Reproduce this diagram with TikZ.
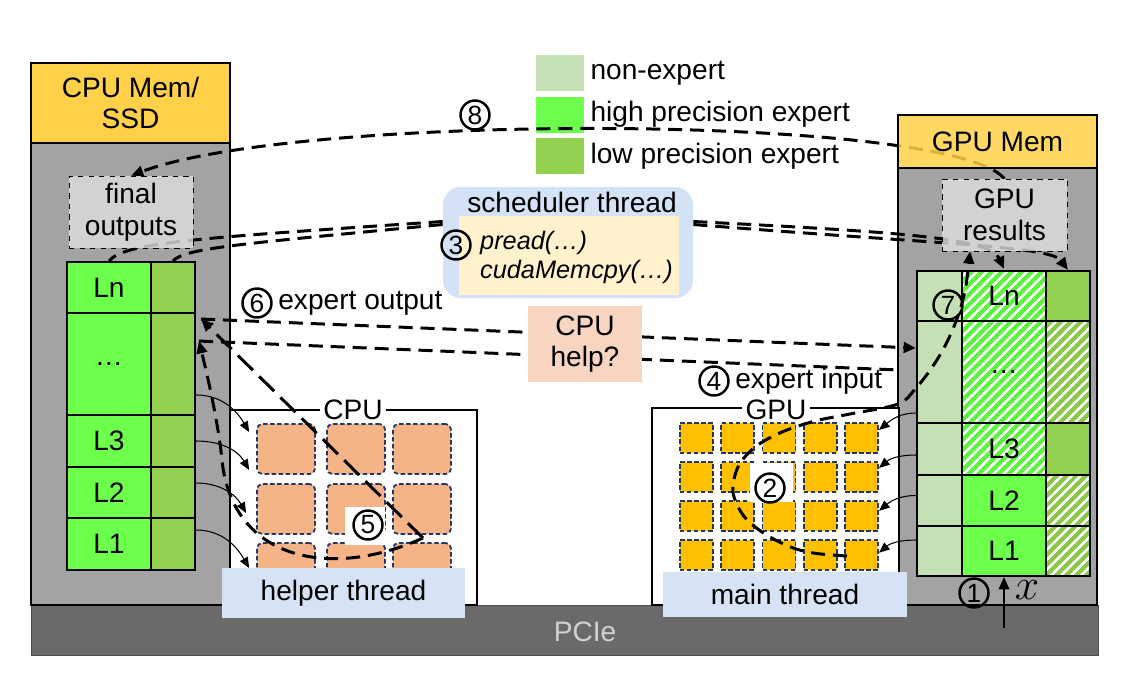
\documentclass[tikz,border=0pt]{standalone}
\usepackage{fontspec}
\setmainfont{Liberation Sans}
\usetikzlibrary{positioning, fit, arrows.meta, patterns.meta}

\definecolor{memyellow}{RGB}{255,209,72}
\definecolor{membody}{RGB}{163,163,163}
\definecolor{pciegray}{RGB}{106,106,106}
\definecolor{nonexp}{RGB}{197,224,180}
\definecolor{hiexp}{RGB}{108,255,76}
\definecolor{histripe}{RGB}{90,245,60}
\definecolor{loexp}{RGB}{146,208,80}
\definecolor{lostripe}{RGB}{140,200,72}
\definecolor{cpuorange}{RGB}{244,180,136}
\definecolor{gpuyellow}{RGB}{255,192,0}
\definecolor{coreline}{RGB}{31,56,100}
\definecolor{threadblue}{RGB}{214,227,244}
\definecolor{schedblue}{RGB}{212,226,245}
\definecolor{schedin}{RGB}{255,242,204}
\definecolor{helpbox}{RGB}{248,213,192}
\definecolor{resgray}{RGB}{222,222,222}

\pgfdeclarelayer{front}
\pgfsetlayers{main,front}

\begin{document}
\begin{tikzpicture}[x=0.02cm, y=-0.02cm, font=\fontsize{16}{18}\selectfont]
		\tikzstyle{box}=[inner sep=0pt]
		\tikzstyle{memframe}=[box, draw=black, line width=1.2pt]
		\tikzstyle{cell}=[box, draw=black, line width=1.2pt]
		\tikzstyle{hicell}=[cell, fill=hiexp]
		\tikzstyle{locell}=[cell, fill=loexp]
		\tikzstyle{necell}=[cell, fill=nonexp]
		\tikzstyle{hihatch}=[cell, preaction={fill=white},
		pattern={Lines[angle=45,distance=4pt,line width=2.4pt]}, pattern color=histripe]
		\tikzstyle{lohatch}=[cell, preaction={fill=white},
		pattern={Lines[angle=45,distance=4pt,line width=2.4pt]}, pattern color=lostripe]
		\tikzstyle{resbox}=[box, draw=black, dashed, fill=resgray, fill opacity=0.8, text opacity=1]
		\tikzstyle{core}=[draw=coreline, line width=1pt, dash pattern=on 2.5pt off 1.5pt]
		\tikzstyle{cpuunit}=[core, fill=cpuorange, rounded corners=3pt, minimum width=1.16cm, minimum height=1cm]
		\tikzstyle{gpuunit}=[core, fill=gpuyellow, minimum width=0.66cm, minimum height=0.6cm]
		\tikzstyle{threadbox}=[box, fill=threadblue]
		\tikzstyle{legbox}=[minimum width=0.96cm, minimum height=0.72cm, inner sep=0pt]
		\tikzstyle{num}=[circle, draw, line width=1.4pt, minimum size=0.58cm, inner sep=0pt,
		font=\fontsize{15}{15}\selectfont]
		\tikzstyle{flow}=[line width=1.7pt, dash pattern=on 8pt off 4.5pt]
		\tikzstyle{feed}=[line width=0.6pt, -{Triangle[length=6pt,width=5pt]}]
		\tikzstyle{tip}=[-{Triangle[length=7pt,width=6pt]}]
		\tikzset{every label/.style={align=center}}
		
		\useasboundingbox (0,0) rectangle (1123,697);
		
		%% PCIe
		\node[box, fill=pciegray, draw=black!70, fit={(31,605) (1098,655)}] (pcie) {};
		\node[text=black!18] (pcielab) at (585,632) {PCIe};
		
		%% Memorias
		\node[memframe, fill=membody, fit={(31,143) (230,605)}] (cpumem) {};
		\node[memframe, fill=memyellow, fit={(31,63) (230,143)}, label=center:{CPU Mem/\\SSD}] (cpuhead) {};
		\node[memframe, fill=membody, fit={(898,168) (1097,605)}] (gpumem) {};
		
		%% CPU e GPU
		\node[box, draw, line width=1pt, fill=white, fit={(230,410) (477,605)}] (cpu) {};
		\node[fill=white, inner sep=2pt] (cpulab) at (353,410) {CPU};
		\node[box, draw, line width=1pt, fill=white, fit={(652,408) (899,605)}] (gpu) {};
		\node[fill=white, inner sep=2pt] (gpulab) at (776,410) {GPU};
		
		%% Legenda
		\node[legbox, fill=nonexp] (leg1) at (560,73) {};
		\node[right=0pt of leg1] (legt1) {non-expert};
		\node[legbox, fill=hiexp, below=0.1cm of leg1] (leg2) {};
		\node[right=0pt of leg2] (legt2) {high precision expert};
		\node[legbox, fill=loexp, below=0.1cm of leg2] (leg3) {};
		\node[right=0pt of leg3] (legt3) {low precision expert};
		
		%% Camadas na CPU Mem
		\foreach \n/\ya/\yb/\t in {ln/262/313/Ln, dots/313/415/\ldots, l3/415/467/L3, l2/467/518/L2, l1/518/570/L1}
		{
			\node[hicell, fit={(67,\ya) (151,\yb)}, label=center:\t] (cl-\n) {};
			\node[locell, fit={(151,\ya) (195,\yb)}] (cr-\n) {};
		}
		
		%% Camadas na GPU Mem
		\foreach \n/\ya/\yb/\t/\ms/\ls in {ln/271/321/Ln/hihatch/locell, dots/321/423/\ldots/hihatch/lohatch,
			l3/423/475/L3/hihatch/locell, l2/475/526/L2/hicell/lohatch, l1/526/576/L1/hicell/lohatch}
		{
			\node[necell, fit={(917,\ya) (962,\yb)}] (nl-\n) {};
			\node[\ms, fit={(962,\ya) (1046,\yb)}, label=center:\t] (nm-\n) {};
			\node[\ls, fit={(1046,\ya) (1090,\yb)}] (nr-\n) {};
		}
		
		%% Nucleos
		\foreach \i/\x in {1/286,2/356,3/422}
		\foreach \j/\y in {1/449,2/509,3/568}
		\node[cpuunit] (cpu-\i-\j) at (\x,\y) {};
		
		\foreach \i in {0,...,4}
		\foreach \j in {0,...,3}
		\node[gpuunit] (gpu-\i-\j) at (696.5+41.3*\i, 438+38.9*\j) {};
		
		%% Resultados (na frente das setas)
		\begin{pgfonlayer}{front}
			\node[resbox, fit={(69,176) (193,248)}, label=center:{final\\outputs}] (finalout) {};
			\node[resbox, fit={(942,179) (1067,251)}, label=center:{GPU\\results}] (gpures) {};
			\node[memframe, fill=memyellow, fill opacity=0.85, text opacity=1,
			fit={(898,115) (1097,168)}, label=center:{GPU Mem}] (gpuhead) {};
		\end{pgfonlayer}
		
		%% Scheduler
		\node[box, fill=schedblue, rounded corners=10pt, fit={(443,187) (693,298)}] (sched) {};
		\node[box, fill=schedin, fit={(459,216) (679,295)}] (schedcode) {};
		\node (schedlab) at (572,202) {scheduler thread};
		\node[anchor=west, align=left, font=\itshape\fontsize{14.4}{16.5}\selectfont] (calls) at (474,257)
		{pread(…)\\cudaMemcpy(…)};
		\node[num] (n3) at (456,245) {3};
		
		%% Setas tracejadas
		\coordinate (p5) at (423,538);
		\coordinate (p2) at (847,556);
		\coordinate (p7) at ([xshift=-0.69cm]gpures.south);
		\coordinate (xin) at (1004,628);
		
		\draw[flow, tip] (gpures.north) .. controls (950,114) and (300,112) .. (finalout.north);
		\draw[flow] ([yshift=0.42cm]sched.west) .. controls (200,238) and (125,242) .. (cl-ln.north);
		\draw[flow] ([yshift=0.36cm]sched.west) .. controls (240,244) and (185,248) .. (cr-ln.north);
		\draw[flow, tip] ([yshift=0.42cm]sched.east) .. controls (900,232) and (990,238) .. (nm-ln.north);
		\draw[flow, tip] ([yshift=0.36cm]sched.east) .. controls (950,245) and (1050,246) .. (nr-ln.north);
		\draw[flow, tip] ([xshift=0.1cm,yshift=-0.1cm]cr-ln.south east) -- ([yshift=0.48cm]nl-dots.west);
		\draw[flow] ([xshift=0.06cm,yshift=-0.54cm]cr-ln.south east) -- ([xshift=-0.34cm,yshift=0.04cm]nl-dots.west);
		\draw[flow, tip, dash pattern=on 12pt off 5pt] (p5) -- ([xshift=0.1cm,yshift=-0.1cm]cr-ln.south east);
		\draw[flow, tip] (p5) .. controls (330,580) and (232,560) .. (222,460)
		.. controls (218,420) and (206,370) .. ([xshift=0.06cm,yshift=-0.54cm]cr-ln.south east);
		\draw[flow, tip] plot[smooth, tension=0.55] coordinates {(p2) (813,553) (788,546) (762,532) (743,515)
			(733,492) (738,467) (755,447) (782,432) (815,421) (850,414) (898,404) (916,388) (933,366)
			(947,342) (959,313) (966,285) (p7)};
		
		%% Setas finas
		\draw[feed] ([yshift=-0.62cm]cr-dots.east) to[out=0, in=120] ([xshift=-0.14cm,yshift=0.34cm]cpu-1-1.west);
		\draw[feed] (cr-l3.east) to[out=0, in=120] ([xshift=-0.14cm,yshift=-0.42cm]cpu-1-1.west);
		\draw[feed] ([yshift=0.19cm]cr-l2.east) to[out=0, in=120] ([xshift=-0.2cm,yshift=-0.08cm]cpu-1-2.west);
		\draw[feed] ([yshift=0.28cm]cr-l1.east) to[out=0, in=120] ([xshift=-0.14cm]cpu-1-3.west);
		
		\draw[feed] ([yshift=-0.82cm]nl-dots.west) to[out=180, in=40] ([yshift=0.16cm]gpu-4-0.east);
		\draw[feed] ([yshift=-0.12cm]nl-l3.west) to[out=180, in=40] ([yshift=0.18cm]gpu-4-1.east);
		\draw[feed] ([yshift=0.1cm]nl-l2.west) to[out=180, in=40] ([yshift=0.1cm]gpu-4-2.east);
		\draw[feed] ([yshift=0.22cm]nl-l1.west) to[out=180, in=40] ([yshift=0.04cm]gpu-4-3.east);
		
		%% Entrada x
		\draw[tip, line width=1pt] (xin) -- (nm-l1.south);
		\node[font=\fontsize{24}{24}\selectfont] (xlab) at (1027,590) {$x$};
		
		%% CPU help?
		\node[box, fill=helpbox, fit={(528,306) (642,382)}, label=center:{CPU\\help?}] (help) {};
		
		%% Threads
		\node[threadbox, fit={(222,568) (465,618)}, label=center:{helper thread}] (helper) {};
		\node[threadbox, fit={(663,572) (907,617)}, label=center:{main thread}] (mainth) {};
		
		%% Passos
		\node[fill=white, minimum width=0.8cm, minimum height=0.76cm] (w5) at (365,526) {};
		\node[num] (n5) at (368,525) {5};
		\node[fill=white, minimum width=0.86cm, minimum height=0.78cm] (w2) at (771,482) {};
		\node[num] (n2) at (770,488) {2};
		\node[num] (n8) at (475,115) {8};
		\node[num] (n6) at (257,303) {6};
		\node[right=2pt of n6, inner sep=1pt] (lab6) {expert output};
		\node[num] (n4) at (714,381) {4};
		\node[right=2pt of n4, inner sep=1pt] (lab4) {expert input};
		\node[num] (n7) at (948,305) {7};
		\node[num] (n1) at (974,593) {1};
		
	\end{tikzpicture}
\end{document}
